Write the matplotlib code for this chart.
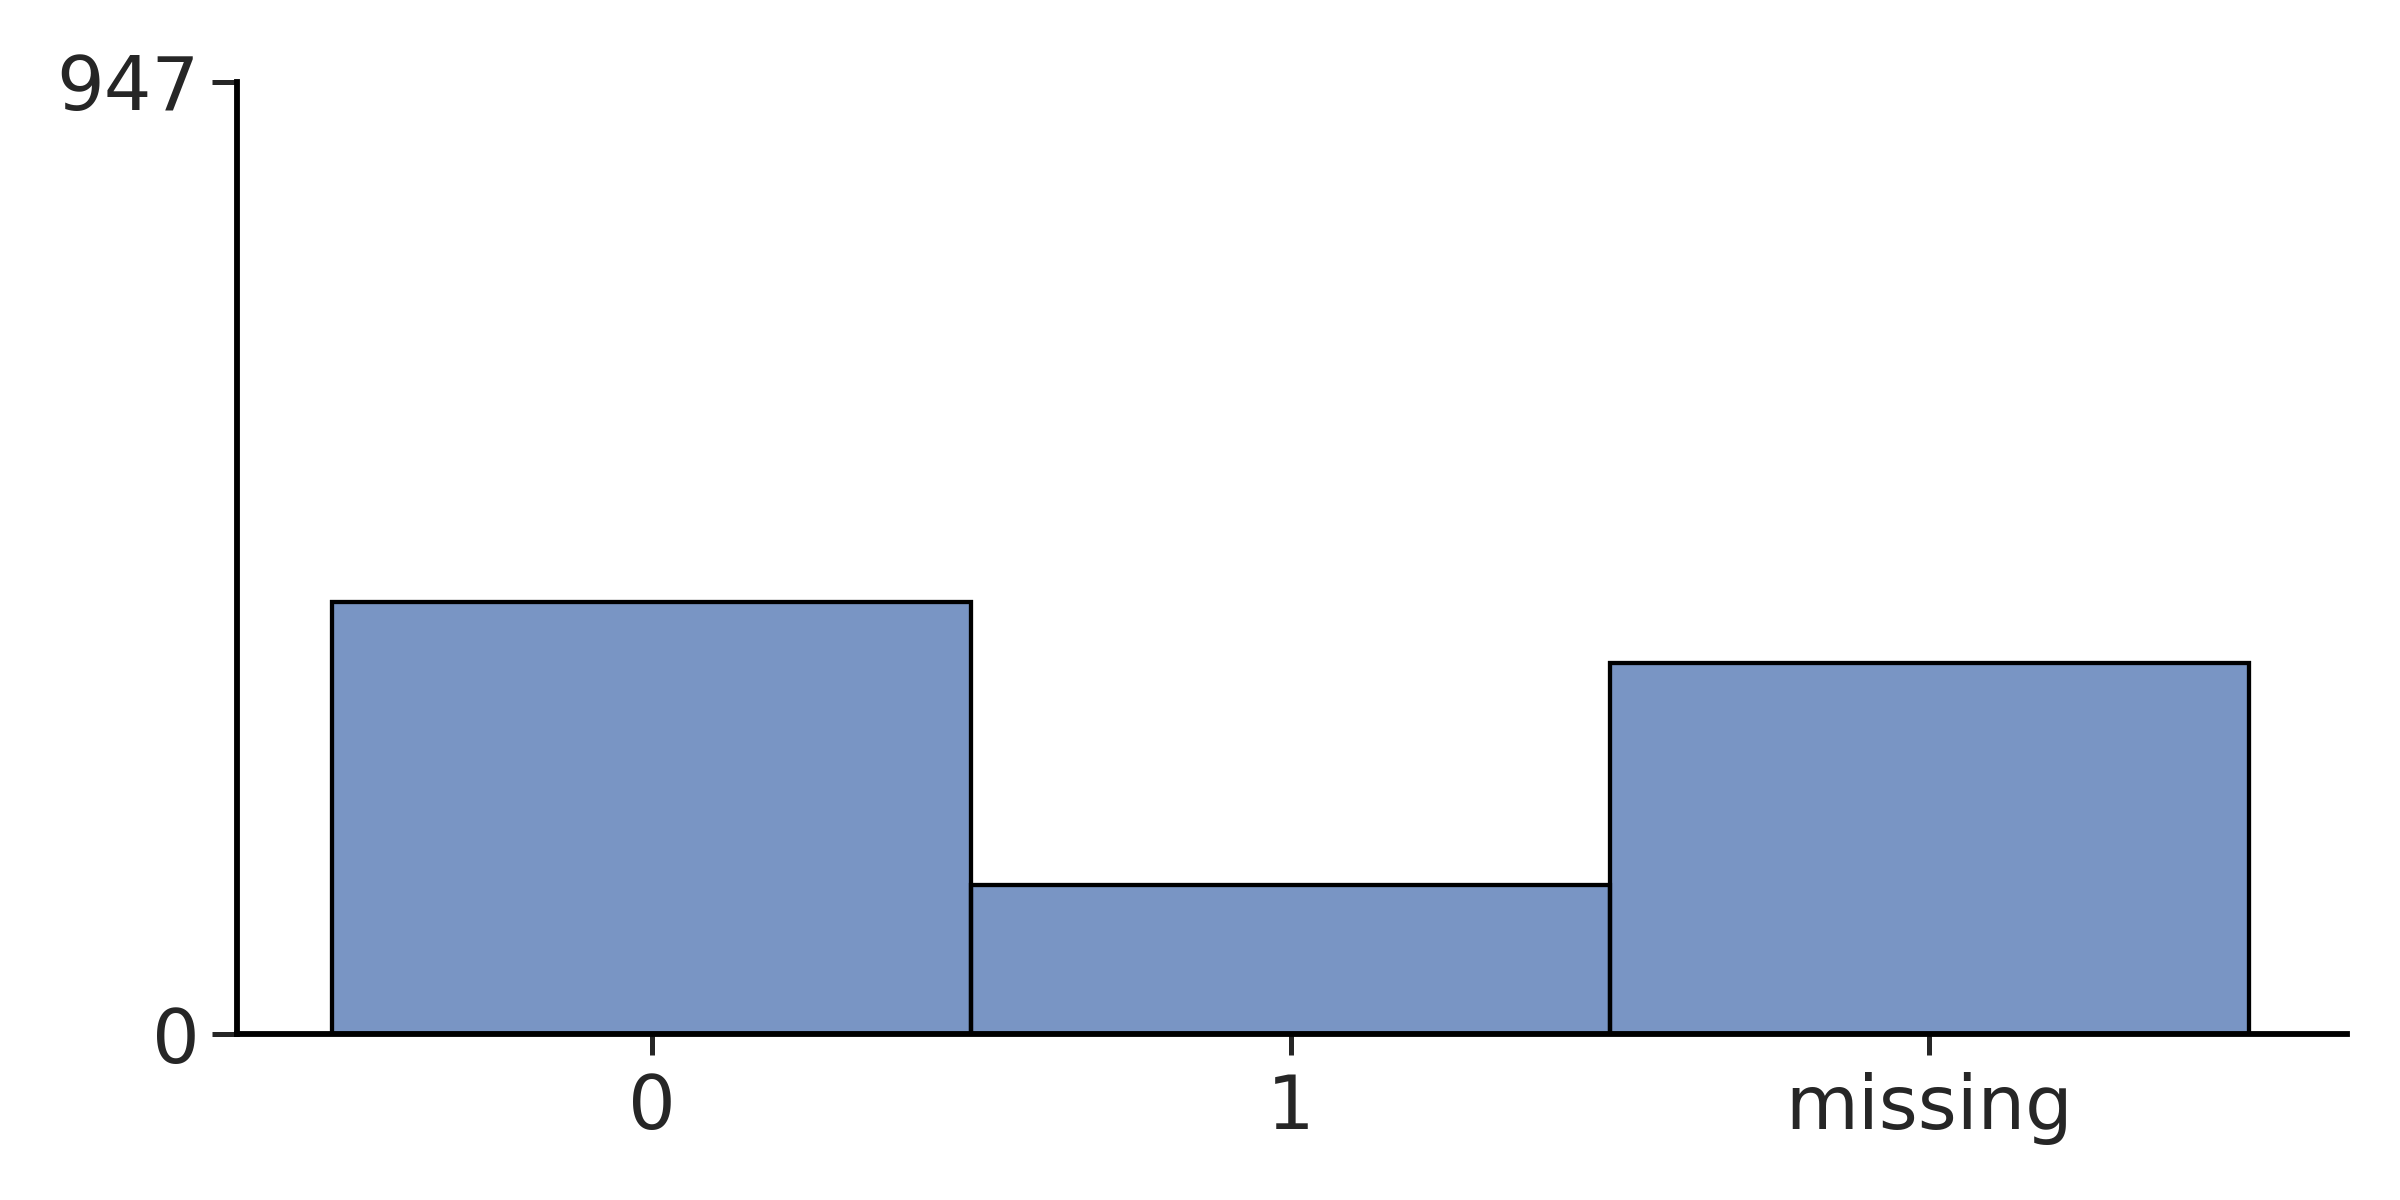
import numpy as np
import matplotlib
matplotlib.use('Agg')
import matplotlib.pyplot as plt

plt.rcParams['font.family'] = 'DejaVu Sans'

# Category counts
categories = ["0", "1", "missing"]
counts = [430, 148, 369]
y_max = 947

BAR_COLOR = "#4c72b0"
TEXT_COLOR = "#262626"

fig = plt.figure(figsize=(8, 4), dpi=300)
ax = fig.add_axes([0.0988, 0.1383, 0.8792, 0.7937])

x = np.arange(len(categories))
ax.bar(x, counts, width=1.0, color=BAR_COLOR, alpha=0.75,
       edgecolor="black", linewidth=1.0)
# redraw edges fully opaque
ax.bar(x, counts, width=1.0, facecolor="none", edgecolor="black", linewidth=1.0)

ax.set_xlim(-0.649, 2.654)
ax.set_ylim(0, y_max)
ax.set_xticks(x)
ax.set_xticklabels(categories)
ax.set_yticks([0, y_max])
ax.set_yticklabels(["0", str(y_max)])

for side in ["top", "right"]:
    ax.spines[side].set_visible(False)
for side in ["left", "bottom"]:
    ax.spines[side].set_linewidth(1.4)
    ax.spines[side].set_color("black")

ax.tick_params(axis="y", length=6, width=1.2, color=TEXT_COLOR,
               labelsize=18, labelcolor=TEXT_COLOR, pad=3)
ax.tick_params(axis="x", length=5, width=1.2, color=TEXT_COLOR,
               labelsize=18, labelcolor=TEXT_COLOR, pad=4)

fig.savefig("out.png", dpi=300)
plt.close()
